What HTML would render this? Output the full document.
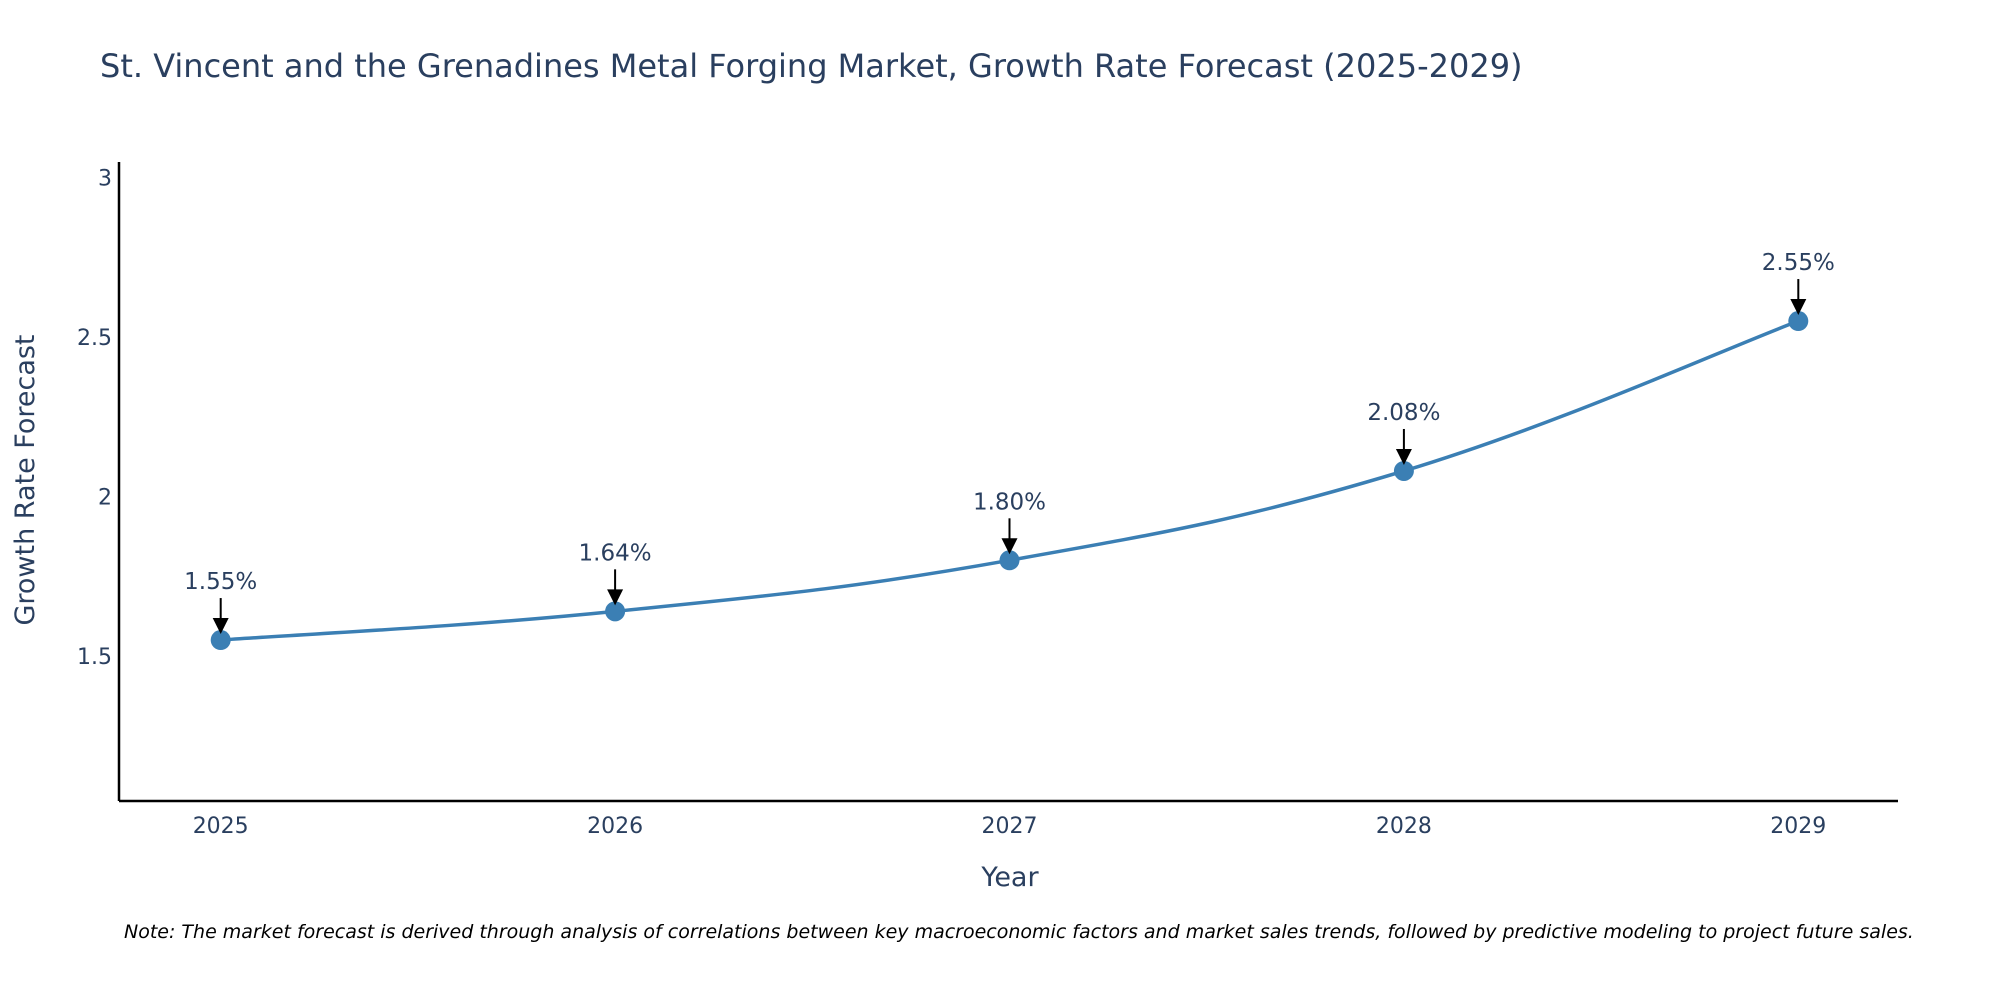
<!DOCTYPE html>
<html><head><meta charset="utf-8"><style>
body{margin:0;background:#fff;}
svg text{font-family:"DejaVu Sans","Liberation Sans",sans-serif;fill:#2a3f5f;}
</style></head><body>
<svg width="2000" height="1000" xmlns="http://www.w3.org/2000/svg">
<text x="100" y="77" font-size="32">St. Vincent and the Grenadines Metal Forging Market, Growth Rate Forecast (2025-2029)</text>
<g id="axes"></g>
<g id="series"></g>
<text transform="translate(34,480) rotate(-90)" text-anchor="middle" font-size="27">Growth Rate Forecast</text>
<text x="1010" y="886" text-anchor="middle" font-size="27">Year</text>
<text x="124" y="938" font-size="19" font-style="italic" style="fill:#000">Note: The market forecast is derived through analysis of correlations between key macroeconomic factors and market sales trends, followed by predictive modeling to project future sales.</text>
</svg>
<script>
const years = [2025, 2026, 2027, 2028, 2029];
const values = [1.55, 1.64, 1.80, 2.08, 2.55];
const labels = ["1.55%", "1.64%", "1.80%", "2.08%", "2.55%"];
const yTicks = [1.5, 2, 2.5, 3];

const NS = "http://www.w3.org/2000/svg";
const L = 119, R = 1898, T = 162, B = 801;
const xScale = v => 220.7 + (v - 2025) * 394.4;
const yScale = v => 656 - (v - 1.5) * 319;
function mk(tag, attrs, parent, txt){
  const e = document.createElementNS(NS, tag);
  for (const k in attrs) e.setAttribute(k, attrs[k]);
  if (txt !== undefined) e.textContent = txt;
  parent.appendChild(e); return e;
}
const ax = document.getElementById('axes');
let e = mk('line', {x1:L, y1:T, x2:L, y2:B, stroke:'#000', 'stroke-width':2.5}, ax);


e = mk('line', {x1:L, y1:B, x2:R, y2:B, stroke:'#000', 'stroke-width':2.5}, ax);


yTicks.forEach(t => {
  const el = mk('text', {x:L - 7, y:yScale(t) + 8, 'text-anchor':'end', 'font-size':22}, ax, String(t));
  
  
});
years.forEach(y => {
  const el = mk('text', {x:xScale(y), y:833, 'text-anchor':'middle', 'font-size':22}, ax, String(y));
  
  
});
const sg = document.getElementById('series');
const pts = years.map((y, i) => [xScale(y), yScale(values[i])]);
let d = 'M' + pts[0][0] + ',' + pts[0][1];
for (let i = 0; i < pts.length - 1; i++) {
  const p0 = pts[Math.max(0, i - 1)], p1 = pts[i], p2 = pts[i + 1], p3 = pts[Math.min(pts.length - 1, i + 2)];
  const k = 0.2;
  d += ' C' + (p1[0] + (p2[0] - p0[0]) * k) + ',' + (p1[1] + (p2[1] - p0[1]) * k) + ' ' +
       (p2[0] - (p3[0] - p1[0]) * k) + ',' + (p2[1] - (p3[1] - p1[1]) * k) + ' ' + p2[0] + ',' + p2[1];
}
const line = mk('path', {d:d, fill:'none', stroke:'#3b7fb4', 'stroke-width':3.5}, sg);


pts.forEach((p, i) => {
  const c = mk('circle', {cx:p[0], cy:p[1], r:10, fill:'#3b7fb4'}, sg);
  
  
  const a = mk('line', {x1:p[0], y1:p[1] - 42, x2:p[0], y2:p[1] - 18, stroke:'#000', 'stroke-width':2}, sg);
  
  
  const h = mk('polygon', {points:(p[0]-8)+','+(p[1]-22)+' '+(p[0]+8)+','+(p[1]-22)+' '+p[0]+','+(p[1]-6), fill:'#000'}, sg);
  
  
  const t = mk('text', {x:p[0], y:p[1] - 51, 'text-anchor':'middle', 'font-size':23}, sg, labels[i]);
  
  
});
</script>
</body></html>
